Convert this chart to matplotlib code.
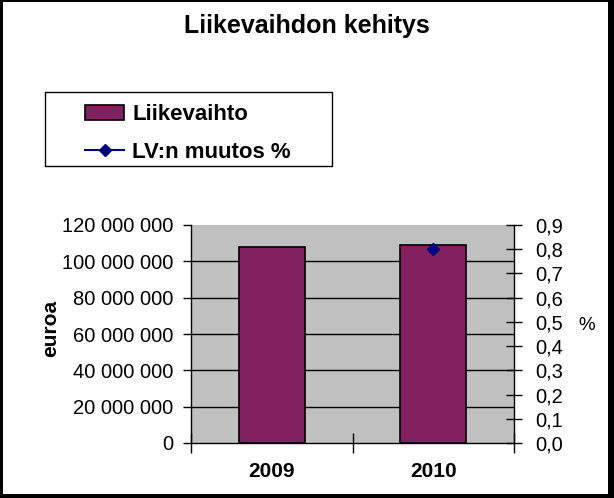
import numpy as np
import matplotlib
matplotlib.use('Agg')
import matplotlib.pyplot as plt
from matplotlib.patches import Rectangle
from matplotlib.ticker import FuncFormatter, MultipleLocator, FixedLocator

plt.rcParams['font.family'] = ['Liberation Sans', 'DejaVu Sans']

# data
years = ['2009', '2010']
revenue = [108_000_000, 109_100_000]       # Liikevaihto, euroa
change_pct = [np.nan, 0.80]                 # LV:n muutos %

bar_color = '#832060'
line_color = '#000080'

W, H = 614, 498
fig = plt.figure(figsize=(W / 100, H / 100), dpi=100)
fig.patch.set_facecolor('white')
# black frame round the whole chart (thicker on right and bottom)
for (x0, y0, w, h) in [(0, 0, 3, H), (0, 0, W, 2), (W - 6, 0, 6, H), (0, H - 4, W, 4)]:
    fig.patches.append(Rectangle((x0 / W, 1 - (y0 + h) / H), w / W, h / H,
                                 transform=fig.transFigure, facecolor='black',
                                 edgecolor='none'))

# plot area in pixels: x 191..514, y 225..443
px0, px1, py0, py1 = 191, 514, 225, 443
ax = fig.add_axes([px0 / W, 1 - py1 / H, (px1 - px0) / W, (py1 - py0) / H])
ax.set_facecolor('#C0C0C0')
x = np.arange(len(years))
bars = ax.bar(x, revenue, width=0.41, color=bar_color, edgecolor='black',
              linewidth=1.2, zorder=3, label='Liikevaihto')
ax.set_xlim(-0.5, 1.5)
ax.set_ylim(0, 120_000_000)
ax.yaxis.set_major_locator(MultipleLocator(20_000_000))
ax.yaxis.set_major_formatter(FuncFormatter(lambda v, p: f'{int(v):,}'.replace(',', ' ')))
for v in range(20_000_000, 120_000_000, 20_000_000):
    ax.axhline(v, color='black', linewidth=1.0, zorder=1)
ax.set_xticks(x)
ax.set_xticklabels(years, fontsize=15, fontweight='bold')
ax.tick_params(axis='x', which='major', length=0, pad=14)
ax.xaxis.set_minor_locator(FixedLocator([-0.5, 0.5, 1.5]))
ax.tick_params(axis='x', which='minor', direction='inout', length=14, width=1)
ax.tick_params(axis='y', direction='out', length=6, width=1, labelsize=14.5, pad=7)
ax.set_ylabel('euroa', fontsize=15, fontweight='bold', va='center')
ax.yaxis.set_label_coords((51 - px0) / (px1 - px0), (py1 - 328) / (py1 - py0))
ax.spines['top'].set_visible(False)
ax.spines['right'].set_visible(False)
for s in ('left', 'bottom'):
    ax.spines[s].set_linewidth(1.0)

ax2 = ax.twinx()
ln, = ax2.plot(x, change_pct, color=line_color, marker='D', markersize=6,
               linewidth=1.5, zorder=4, label='LV:n muutos %')
ax2.set_ylim(0, 0.9)
ax2.yaxis.set_major_locator(MultipleLocator(0.1))
ax2.yaxis.set_major_formatter(FuncFormatter(lambda v, p: f'{v:.1f}'.replace('.', ',')))
ax2.tick_params(axis='y', direction='inout', length=12, width=1, labelsize=14.5, pad=9)
ax2.set_ylabel('%', fontsize=13.5, rotation=0, va='center', ha='center')
ax2.yaxis.set_label_coords((587 - px0) / (px1 - px0), (py1 - 325) / (py1 - py0))
for s in ('top', 'left', 'bottom'):
    ax2.spines[s].set_visible(False)
ax2.spines['right'].set_linewidth(1.0)

fig.text(0.5, 1 - 33 / H, 'Liikevaihdon kehitys', ha='center', va='baseline',
         fontsize=18, fontweight='bold')

# legend box
fig.patches.append(Rectangle((45 / W, 1 - 166 / H), 287 / W, 74 / H,
                             transform=fig.transFigure, fill=False,
                             edgecolor='black', linewidth=1.0))
fig.legend([bars, ln], ['Liikevaihto', 'LV:n muutos %'], loc='upper left',
           bbox_to_anchor=(81 / W, 1 - 100 / H), frameon=False,
           prop={'size': 16, 'weight': 'bold'}, handlelength=1.75,
           handletextpad=0.35, labelspacing=0.75, borderpad=0.2, borderaxespad=0)

fig.savefig('out.png', dpi=100)
